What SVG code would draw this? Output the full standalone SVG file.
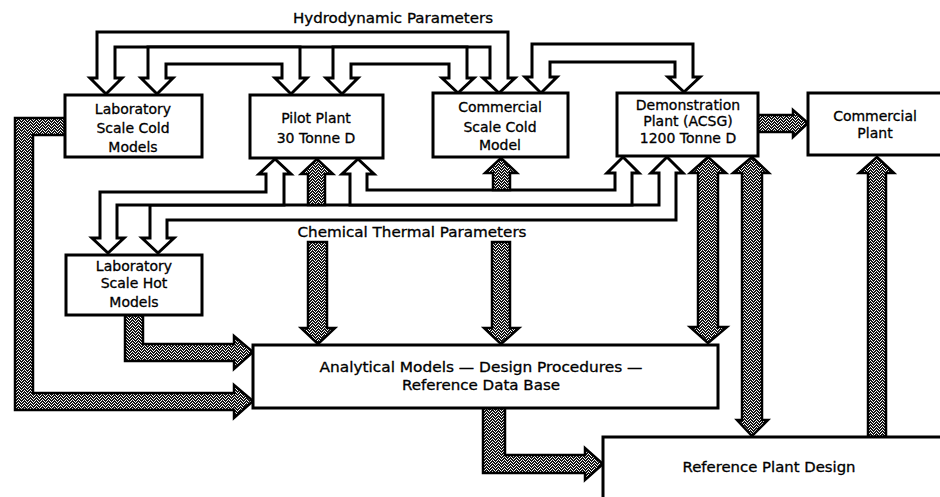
<svg xmlns="http://www.w3.org/2000/svg" width="940" height="497" viewBox="0 0 940 497">
<style>
.box{fill:#fff;stroke:#000;stroke-width:3}
.pipe{fill:#fff;stroke:#000;stroke-width:3;stroke-linejoin:miter}
.shade{fill:url(#stip);stroke:#000;stroke-width:2.5;stroke-linejoin:miter}
text{font-family:"DejaVu Sans","Liberation Sans",sans-serif;font-size:14px;fill:#000;stroke:#000;stroke-width:0.3;text-anchor:middle}
</style>
<defs>
<pattern id="stip" width="6" height="6" patternUnits="userSpaceOnUse">
<rect width="6" height="6" fill="#151515"/>
<g fill="#fff">
<rect x="0" y="0" width="1" height="1"/>
<rect x="3" y="0" width="1" height="1"/>
<rect x="1" y="1" width="1" height="1"/>
<rect x="5" y="1" width="1" height="1"/>
<rect x="2" y="2" width="1" height="1"/>
<rect x="4" y="2" width="1" height="1"/>
<rect x="0" y="3" width="1" height="1"/>
<rect x="3" y="3" width="1" height="1"/>
<rect x="5" y="4" width="1" height="1"/>
<rect x="1" y="4" width="1" height="1"/>
<rect x="2" y="5" width="1" height="1"/>
<rect x="4" y="5" width="1" height="1"/>
</g>
</pattern>
</defs>
<rect width="940" height="497" fill="#fff"/>

<g id="connectors">
<!-- Hydrodynamic parameter pipes -->
<path class="pipe" d="M97,32 H508 V78 H515 L499,93 L483,78 H490 V47 H115 V78 H122 L106,94 L90,78 H97 Z"/>
<path class="pipe" d="M148,47 H300 V78 H307 L291,94 L275,78 H282 V64 H166 V78 H173 L157,94 L141,78 H148 Z"/>
<path class="pipe" d="M333,47 H467 V78 H474 L458,93 L442,78 H449 V64 H351 V78 H358 L342,94 L326,78 H333 Z"/>
<path class="pipe" d="M532,44 H693 V77 H700 L684,92 L668,77 H675 V62 H550 V77 H557 L541,93 L525,77 H532 Z"/>
<!-- Chemical thermal parameter pipes -->
<path class="pipe" d="M150,205 H659 V173 H651 L667,157 L683,173 H676 V220 H167 V238 H174 L158,253 L142,238 H150 Z"/>
<path class="pipe" d="M100,192 H266 V174 H259 L275,159 L291,174 H284 V205 H117 V238 H124 L108,253 L92,238 H100 Z"/>
<path class="pipe" d="M350,205 V174 H342 L358,159 L374,174 H367 V190 H615 V173 H607 L623,157 L639,173 H632 V205 Z"/>
<!-- shaded up arrows -->
<path class="shade" d="M308,205 V174 H301 L317,159 L333,174 H325 V205 Z"/>
<path class="shade" d="M493,190 V173 H485 L501,158 L517,173 H510 V190 Z"/>
<!-- shaded down arrows to analytical models -->
<path class="shade" d="M308,242 H327 V328 H335 L318,344 L301,328 H308 Z"/>
<path class="shade" d="M492,242 H510 V328 H519 L501,344 L484,328 H492 Z"/>
<!-- Demo double arrows -->
<path class="shade" d="M698,173 H690 L708,157 L726,173 H718 V327 H727 L708,343 L690,327 H698 Z"/>
<path class="shade" d="M742,173 H733 L752,157 L769,173 H762 V420 H768 L752,436 L737,420 H742 Z"/>
<!-- Reference -> Commercial Plant -->
<path class="shade" d="M868,437 V173 H859 L877,157 L894,173 H886 V437 Z"/>
<!-- Demo -> Commercial Plant -->
<path class="shade" d="M758,115 H793 V110 L808,123 L793,137 V132 H758 Z"/>
<!-- Lab cold -> Analytical -->
<path class="shade" d="M65,118 H15 V410 H234 V418 L253,401 L234,385 V393 H33 V135 H65 Z"/>
<!-- Lab hot -> Analytical -->
<path class="shade" d="M125,315 V361 H234 V369 L253,352 L234,336 V344 H143 V315 Z"/>
<!-- Analytical -> Reference -->
<path class="shade" d="M483,408 V473 H585 V480 L603,464 L585,448 V455 H505 V408 Z"/>
<text x="393" y="23" textLength="200" lengthAdjust="spacingAndGlyphs">Hydrodynamic Parameters</text>
<text x="412" y="237" textLength="229" lengthAdjust="spacingAndGlyphs">Chemical Thermal Parameters</text>
</g>

<g id="lab-cold">
<rect class="box" x="65" y="95" width="137" height="62"/>
<text x="133" y="114">Laboratory</text>
<text x="133" y="133">Scale Cold</text>
<text x="133" y="152">Models</text>
</g>
<g id="pilot-plant">
<rect class="box" x="250" y="95" width="133" height="63"/>
<text x="316" y="123">Pilot Plant</text>
<text x="316" y="143">30 Tonne D</text>
</g>
<g id="commercial-cold">
<rect class="box" x="433" y="93" width="135" height="64"/>
<text x="500" y="112">Commercial</text>
<text x="500" y="132">Scale Cold</text>
<text x="500" y="150">Model</text>
</g>
<g id="demo-plant">
<rect class="box" x="617" y="93" width="141" height="63"/>
<text x="688" y="110">Demonstration</text>
<text x="688" y="126">Plant (ACSG)</text>
<text x="688" y="143">1200 Tonne D</text>
</g>
<g id="commercial-plant">
<rect class="box" x="808" y="93" width="145" height="62"/>
<text x="875" y="121">Commercial</text>
<text x="875" y="138">Plant</text>
</g>
<g id="lab-hot">
<rect class="box" x="66" y="255" width="136" height="60"/>
<text x="134" y="271">Laboratory</text>
<text x="134" y="288">Scale Hot</text>
<text x="134" y="307">Models</text>
</g>
<g id="analytical">
<rect class="box" x="253" y="345" width="465" height="63"/>
<text x="481" y="372" textLength="323" lengthAdjust="spacingAndGlyphs">Analytical Models — Design Procedures —</text>
<text x="481" y="390" textLength="158" lengthAdjust="spacingAndGlyphs">Reference Data Base</text>
</g>
<g id="reference-plant">
<rect class="box" x="603" y="437" width="350" height="75"/>
<text x="769" y="472" textLength="173" lengthAdjust="spacingAndGlyphs">Reference Plant Design</text>
</g>
</svg>
